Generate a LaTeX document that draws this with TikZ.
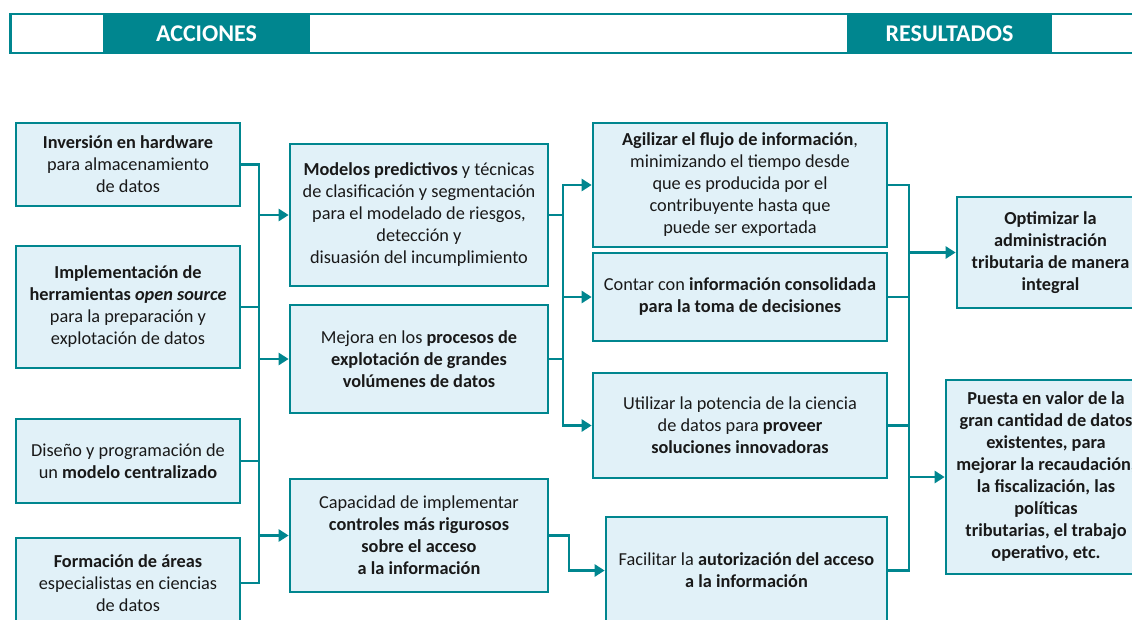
\documentclass[tikz,border=0pt]{standalone}
\usepackage{fontspec}
\setmainfont{Carlito}
\usetikzlibrary{arrows.meta}
\definecolor{teal1}{RGB}{0,134,143}
\definecolor{boxfill}{RGB}{225,241,248}
\definecolor{txt}{RGB}{25,25,25}
\begin{document}
\begin{tikzpicture}[x=1pt,y=-1pt,
  box/.style={draw=teal1, line width=2.7pt, fill=boxfill, align=center, text=txt,
    font=\fontsize{18.3}{22}\selectfont, inner sep=0pt},
  conn/.style={draw=teal1, line width=2.8pt, line cap=rect},
  arr/.style={conn, -{Triangle[length=10pt,width=12pt]}},
  hdr/.style={fill=teal1, text=white, font=\fontsize{24}{28}\selectfont\bfseries, inner sep=0pt}]
\useasboundingbox (0,0) rectangle (1132,619);
\clip (0,0) rectangle (1132,619);
% header band
\draw[teal1, line width=2.6pt, fill=white] (10.3,14) rectangle (1145,53);
\node[hdr, minimum width=207pt, minimum height=41.6pt] (hA) at (206.5,33.5) {ACCIONES};
\node[hdr, minimum width=205pt, minimum height=41.6pt] (hR) at (949.5,33.5) {RESULTADOS};
% left column
\node[box, minimum width=224pt, minimum height=83pt] (L1) at (128,164.5)
  {\textbf{Inversión en hardware}\\para almacenamiento\\de datos};
\node[box, minimum width=224pt, minimum height=122pt] (L2) at (128,307)
  {\textbf{Implementación de}\\\textbf{herramientas \textit{open source}}\\para la preparación y\\explotación de datos};
\node[box, minimum width=224pt, minimum height=84pt] (L3) at (128,461)
  {Diseño y programación de\\un \textbf{modelo centralizado}};
\node[box, minimum width=224pt, minimum height=90pt] (L4) at (128,583)
  {\textbf{Formación de áreas}\\especialistas en ciencias\\de datos};
% middle column
\node[box, minimum width=258pt, minimum height=142pt] (M1) at (419,215)
  {\textbf{Modelos predictivos} y técnicas\\de clasificación y segmentación\\para el modelado de riesgos,\\detección y\\disuasión del incumplimiento};
\node[box, minimum width=258pt, minimum height=108pt] (M2) at (419,359)
  {Mejora en los \textbf{procesos de}\\\textbf{explotación de grandes}\\\textbf{volúmenes de datos}};
\node[box, minimum width=258pt, minimum height=113pt] (M3) at (419,535.5)
  {Capacidad de implementar\\\textbf{controles más rigurosos}\\\textbf{sobre el acceso}\\\textbf{a la información}};
% results column 1
\node[box, minimum width=294pt, minimum height=124pt] (R1) at (740,185)
  {\textbf{Agilizar el flujo de información},\\minimizando el tiempo desde\\que es producida por el\\contribuyente hasta que\\puede ser exportada};
\node[box, minimum width=294pt, minimum height=88pt] (R2) at (740,297)
  {Contar con \textbf{información consolidada}\\\textbf{para la toma de decisiones}};
\node[box, minimum width=294pt, minimum height=105pt] (R3) at (740,425.5)
  {Utilizar la potencia de la ciencia\\de datos para \textbf{proveer}\\\textbf{soluciones innovadoras}};
\node[box, minimum width=281pt, minimum height=107pt] (R4) at (746.5,570.5)
  {Facilitar la \textbf{autorización del acceso}\\\textbf{a la información}};
% final results
\node[box, minimum width=187pt, minimum height=111pt, font=\fontsize{18.3}{22}\selectfont\bfseries] (F1) at (1050.5,252.5)
  {Optimizar la\\administración\\tributaria de manera\\integral};
\node[box, minimum width=200pt, minimum height=194pt, font=\fontsize{18.3}{22}\selectfont\bfseries] (F2) at (1046,477)
  {Puesta en valor de la\\gran cantidad de datos\\existentes, para\\mejorar la recaudación,\\la fiscalización, las\\políticas\\tributarias, el trabajo\\operativo, etc.};
% bus coordinates
\coordinate (b1) at (259,0);
\coordinate (b2) at (563,0);
\coordinate (b4) at (569,0);
\coordinate (b3) at (909,0);
% left bus
\draw[conn] (L1.east) -| (b1 |- L4.east) -- (L4.east);
\draw[conn] (L2.east) -- (b1 |- L2.east);
\draw[conn] (L3.east) -- (b1 |- L3.east);
\draw[arr] (b1 |- M1.west) -- (M1.west);
\draw[arr] (b1 |- M2.west) -- (M2.west);
\draw[arr] (b1 |- M3.west) -- (M3.west);
% middle bus
\draw[conn] (M1.east) -- (b2 |- M1.east);
\draw[conn] (M2.east) -- (b2 |- M2.east);
\draw[conn] (b2 |- R1.west) -- (b2 |- R3.west);
\draw[arr] (b2 |- R1.west) -- (R1.west);
\draw[arr] (b2 |- R2.west) -- (R2.west);
\draw[arr] (b2 |- R3.west) -- (R3.west);
\draw[arr] (M3.east) -| (b4 |- R4.west) -- (R4.west);
% right bus
\draw[conn] (R1.east) -| (b3 |- R4.east) -- (R4.east);
\draw[conn] (R2.east) -- (b3 |- R2.east);
\draw[conn] (R3.east) -- (b3 |- R3.east);
\draw[arr] (b3 |- F1.west) -- (F1.west);
\draw[arr] (b3 |- F2.west) -- (F2.west);
\end{tikzpicture}
\end{document}
